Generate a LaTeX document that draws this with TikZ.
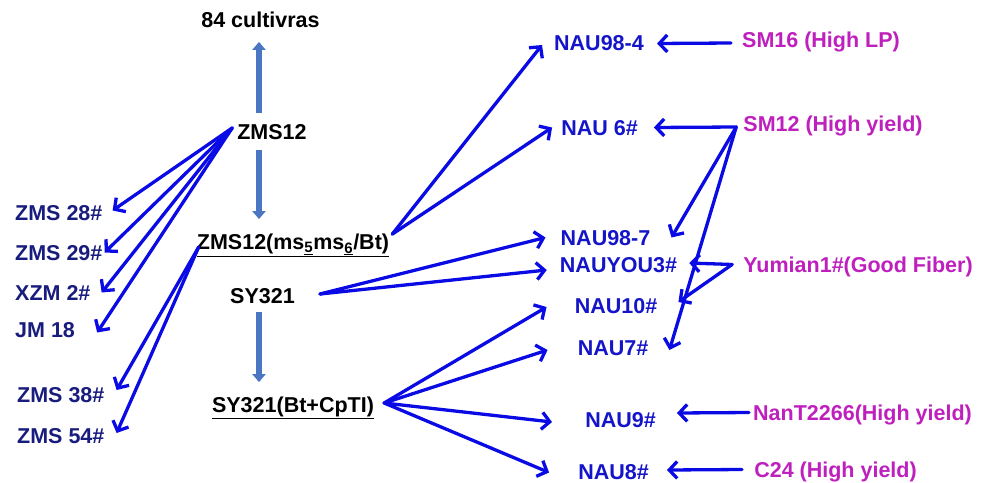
\documentclass[tikz,border=0pt]{standalone}
\usepackage{fontspec}
\setmainfont{Liberation Sans}
\usetikzlibrary{arrows.meta}
\definecolor{navyc}{RGB}{24,28,125}
\definecolor{bluet}{RGB}{20,20,200}
\definecolor{arrb}{RGB}{10,10,228}
\definecolor{magc}{RGB}{190,32,190}
\definecolor{blockb}{RGB}{74,118,196}
\begin{document}
\begin{tikzpicture}[x=1pt,y=-1pt,
  lab/.style={inner sep=0pt,text height=15.4pt,text depth=0pt,
    font=\bfseries\fontsize{21.5}{24}\selectfont},
  blk/.style={lab,text=black},
  navy/.style={lab,text=navyc,anchor=west},
  rb/.style={lab,text=bluet},
  mg/.style={lab,text=magc},
  conn/.style={draw=arrb,line width=3.3pt,line cap=round,line join=round,
    -{Straight Barb[length=8pt,width=17pt]}},
  bar/.style={draw=blockb,line width=5.5pt,-{Triangle[width=13pt,length=8pt]}}]
\useasboundingbox (0,0) rectangle (984,482);

% centre column
\node[blk] (c84) at (260.5,20) {84 cultivras};
\node[blk] (zms12) at (272,132) {ZMS12};
\node[blk] (zmsbt) at (293,242) {\underline{ZMS12(ms\textsubscript{\underline{5}}ms\textsubscript{\underline{6}}/Bt)}};
\node[blk] (sy321) at (262.5,296) {SY321};
\node[blk] (sybt) at (293,405) {\underline{SY321(Bt+CpTI)}};

% left column
\node[navy] (z28) at (15,212.5) {ZMS 28\#};
\node[navy] (z29) at (15,252.5) {ZMS 29\#};
\node[navy] (xzm2) at (15,292.5) {XZM 2\#};
\node[navy] (jm18) at (15,329.5) {JM 18};
\node[navy] (z38) at (17,394.5) {ZMS 38\#};
\node[navy] (z54) at (17,435.5) {ZMS 54\#};

% right column
\node[rb] (nau984) at (599,42.5) {NAU98-4};
\node[rb] (nau6) at (599.5,127.5) {NAU 6\#};
\node[rb] (nau987) at (605.5,237.5) {NAU98-7};
\node[rb] (nauyou3) at (618.5,264.5) {NAUYOU3\#};
\node[rb] (nau10) at (616,305.5) {NAU10\#};
\node[rb] (nau7) at (613,347.5) {NAU7\#};
\node[rb] (nau9) at (620.5,420) {NAU9\#};
\node[rb] (nau8) at (613.5,471.5) {NAU8\#};

% parents
\node[mg] (sm16) at (821,40) {SM16 (High LP)};
\node[mg] (sm12) at (833,124) {SM12 (High yield)};
\node[mg] (yum) at (858,264.5) {Yumian1\#(Good Fiber)};
\node[mg] (nant) at (862.5,412.5) {NanT2266(High yield)};
\node[mg] (c24) at (835.5,469.5) {C24 (High yield)};

% block arrows
\draw[bar] ([xshift=-13pt,yshift=11.3pt]zms12.north) -- ([xshift=-1.5pt,yshift=-14pt]c84.south);
\draw[bar] ([xshift=-13pt,yshift=-10pt]zms12.south) -- ([xshift=-34pt,yshift=15pt]zmsbt.north);
\draw[bar] ([xshift=-3.5pt,yshift=-8pt]sy321.south) -- ([xshift=-34pt,yshift=15pt]sybt.north);

% ZMS12 to left
\coordinate (s1) at ([xshift=-5pt,yshift=4pt]zms12.west);
\draw[conn] (s1) -- ([xshift=10pt,yshift=2pt]z28.east);
\draw[conn] (s1) -- ([xshift=2pt]z29.east);
\draw[conn] (s1) -- ([xshift=11pt]xzm2.east);
\draw[conn] (s1) -- ([xshift=22pt,yshift=-3pt]jm18.east);
\coordinate (s2) at ([xshift=2pt,yshift=-5pt]zmsbt.west);
\draw[conn] (s2) -- ([xshift=12pt,yshift=4.5pt]z38.east);
\draw[conn] (s2) -- ([xshift=12pt,yshift=2.5pt]z54.east);

% to the right
\coordinate (s3) at ([xshift=3pt]zmsbt.north east);
\draw[conn] (s3) -- ([xshift=-12pt,yshift=-2.5pt]nau984.west);
\draw[conn] (s3) -- ([xshift=-9pt]nau6.west);
\coordinate (s4) at ([xshift=25pt,yshift=2pt]sy321.east);
\draw[conn] (s4) -- ([xshift=-15pt]nau987.west);
\draw[conn] (s4) -- ([xshift=-13pt,yshift=-5.5pt]nauyou3.west);
\coordinate (s5) at ([xshift=10pt,yshift=2pt]sybt.east);
\draw[conn] (s5) -- ([xshift=-28pt,yshift=-1.5pt]nau10.west);
\draw[conn] (s5) -- ([xshift=-30pt,yshift=-2.5pt]nau7.west);
\draw[conn] (s5) -- ([xshift=-33pt,yshift=-2pt]nau9.west);
\draw[conn] (s5) -- ([xshift=-29pt,yshift=-1pt]nau8.west);

% parents
\draw[conn] ([xshift=-11pt,yshift=-3pt]sm16.west) -- ([xshift=13pt,yshift=-1pt]nau984.east);
\coordinate (s6) at ([xshift=-7pt,yshift=-3pt]sm12.west);
\draw[conn] (s6) -- ([xshift=16pt]nau6.east);
\draw[conn] (s6) -- ([xshift=21pt]nau987.east);
\draw[conn] (s6) -- ([xshift=21pt,yshift=-2.5pt]nau7.east);
\coordinate (s7) at ([xshift=-11pt]yum.west);
\draw[conn] (s7) -- ([xshift=12pt,yshift=1.5pt]nauyou3.east);
\draw[conn] (s7) -- ([xshift=21pt,yshift=3.5pt]nau10.east);
\draw[conn] ([xshift=-4pt]nant.west) -- ([xshift=21pt,yshift=7pt]nau9.east);
\draw[conn] ([xshift=-12pt]c24.west) -- ([xshift=18pt,yshift=1.5pt]nau8.east);
\end{tikzpicture}
\end{document}
